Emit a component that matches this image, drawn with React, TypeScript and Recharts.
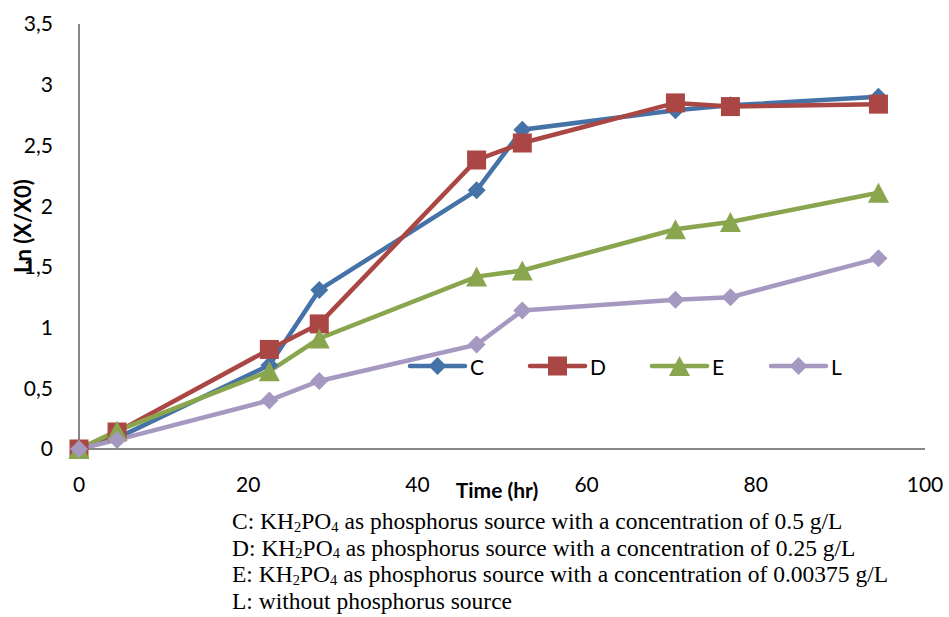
import React from 'react';
import { LineChart, Line, XAxis, YAxis, Legend, Label } from 'recharts';

const timeHr = [0, 4.5, 22.5, 28.4, 47, 52.4, 70.5, 77, 94.5];
const seriesC = [0, 0.09, 0.69, 1.31, 2.13, 2.63, 2.79, 2.83, 2.9];
const seriesD = [0, 0.14, 0.82, 1.03, 2.38, 2.52, 2.85, 2.82, 2.84];
const seriesE = [0, 0.15, 0.64, 0.91, 1.42, 1.47, 1.81, 1.87, 2.11];
const seriesL = [0, 0.075, 0.4, 0.56, 0.86, 1.14, 1.23, 1.25, 1.57];
const xTicks = [0, 20, 40, 60, 80, 100];
const yTicks = [0, 0.5, 1, 1.5, 2, 2.5, 3, 3.5];
const seriesNames = ['C', 'D', 'E', 'L'];
const notes = [
  { prefix: 'C: KH', rest: ' as phosphorus source with a concentration of 0.5 g/L', chem: true },
  { prefix: 'D: KH', rest: ' as phosphorus source with a concentration of 0.25 g/L', chem: true },
  { prefix: 'E: KH', rest: ' as phosphorus source with a concentration of 0.00375 g/L', chem: true },
  { prefix: 'L: without phosphorus source', rest: '', chem: false },
];

const data = timeHr.map((t, i) => ({
  t,
  C: seriesC[i],
  D: seriesD[i],
  E: seriesE[i],
  L: seriesL[i],
}));

const COLORS: Record<string, string> = {
  C: '#4572A7',
  D: '#AA4643',
  E: '#89A54E',
  L: '#A699C1',
};
const SHAPES: Record<string, string> = { C: 'diamond', D: 'square', E: 'triangle', L: 'diamond' };

const FONT = 'Lato, "Open Sans", sans-serif';
const AXIS_COLOR = '#878787';

function Marker({ shape, cx, cy, color }: { shape: string; cx: number; cy: number; color: string }) {
  if (cx == null || cy == null || isNaN(cx) || isNaN(cy)) return null;
  if (shape === 'square') {
    const s = 19;
    return <rect x={cx - s / 2} y={cy - s / 2} width={s} height={s} fill={color} />;
  }
  if (shape === 'triangle') {
    const w = 21;
    const h = 20;
    return (
      <path
        d={`M${cx},${cy - h / 2} L${cx + w / 2},${cy + h / 2} L${cx - w / 2},${cy + h / 2} Z`}
        fill={color}
      />
    );
  }
  const r = 9;
  return <path d={`M${cx},${cy - r} L${cx + r},${cy} L${cx},${cy + r} L${cx - r},${cy} Z`} fill={color} />;
}

function makeDot(name: string) {
  return (props: any) => (
    <g key={`${name}-${props.index}`}>
      <Marker shape={SHAPES[name]} cx={props.cx} cy={props.cy} color={COLORS[name]} />
    </g>
  );
}

const legendOffsets = [5, 125, 247, 366];

function LegendContent() {
  return (
    <svg width={450} height={30} style={{ overflow: 'visible', display: 'block' }}>
      {seriesNames.map((n, i) => {
        const x0 = legendOffsets[i];
        return (
          <g key={n}>
            <line x1={x0} y1={15} x2={x0 + 55} y2={15} stroke={COLORS[n]} strokeWidth={4.5} strokeLinecap="round" />
            <Marker shape={SHAPES[n]} cx={x0 + 27.5} cy={15} color={COLORS[n]} />
            <text x={x0 + 60} y={15} dominantBaseline="central" fontFamily={FONT} fontSize={21} fill="#000">
              {n}
            </text>
          </g>
        );
      })}
    </svg>
  );
}

const fmtY = (v: number) => String(v).replace('.', ',');

const subStyle: React.CSSProperties = { fontSize: 14.5, position: 'relative', top: 2.5 };

export default function App() {
  return (
    <div style={{ position: 'absolute', left: 0, top: 0, width: 949, height: 617, background: '#fff' }}>
      <LineChart
        width={949}
        height={617}
        data={data}
        margin={{ top: 24, right: 24, bottom: 118, left: 19 }}
      >
        <XAxis
          dataKey="t"
          type="number"
          domain={[0, 100]}
          ticks={xTicks}
          tickLine={false}
          tickSize={0}
          tickMargin={28}
          height={50}
          axisLine={{ stroke: AXIS_COLOR, strokeWidth: 2 }}
          tick={{ fontFamily: FONT, fontSize: 21, fill: '#000' }}
        >
          <Label
            content={() => (
              <text
                x={497}
                y={489}
                textAnchor="middle"
                dominantBaseline="central"
                fontFamily={FONT}
                fontWeight="bold"
                fontSize={21}
                fill="#000"
              >
                Time (hr)
              </text>
            )}
          />
        </XAxis>
        <YAxis
          type="number"
          domain={[0, 3.5]}
          ticks={yTicks}
          width={60}
          tickLine={false}
          tickSize={0}
          tickMargin={26}
          tickFormatter={fmtY}
          axisLine={{ stroke: AXIS_COLOR, strokeWidth: 2 }}
          tick={{ fontFamily: FONT, fontSize: 21, fill: '#000' }}
        >
          <Label
            content={() => (
              <text
                x={22}
                y={226}
                transform="rotate(-90 22 226)"
                textAnchor="middle"
                dominantBaseline="central"
                fontFamily={FONT}
                fontWeight="bold"
                fontSize={22}
                fill="#000"
              >
                Ln (X/X0)
              </text>
            )}
          />
        </YAxis>
        <Legend
          layout="horizontal"
          verticalAlign="middle"
          align="center"
          wrapperStyle={{ left: 405, top: 351, width: 450, height: 30 }}
          content={() => <LegendContent />}
        />
        {seriesNames.map((n) => (
          <Line
            key={n}
            type="linear"
            dataKey={n}
            stroke={COLORS[n]}
            strokeWidth={4.5}
            dot={makeDot(n)}
            activeDot={false}
            isAnimationActive={false}
          />
        ))}
      </LineChart>
      <div
        style={{
          position: 'absolute',
          left: 232,
          top: 508,
          fontFamily: '"Liberation Serif", "Times New Roman", serif',
          fontSize: 23.5,
          lineHeight: '26.7px',
          color: '#000',
          whiteSpace: 'nowrap',
        }}
      >
        {notes.map((n, i) => (
          <div key={i} style={{ height: 26.7 }}>
            {n.chem ? (
              <>
                {n.prefix}
                <span style={subStyle}>2</span>
                PO
                <span style={subStyle}>4</span>
                {n.rest}
              </>
            ) : (
              n.prefix
            )}
          </div>
        ))}
      </div>
    </div>
  );
}
